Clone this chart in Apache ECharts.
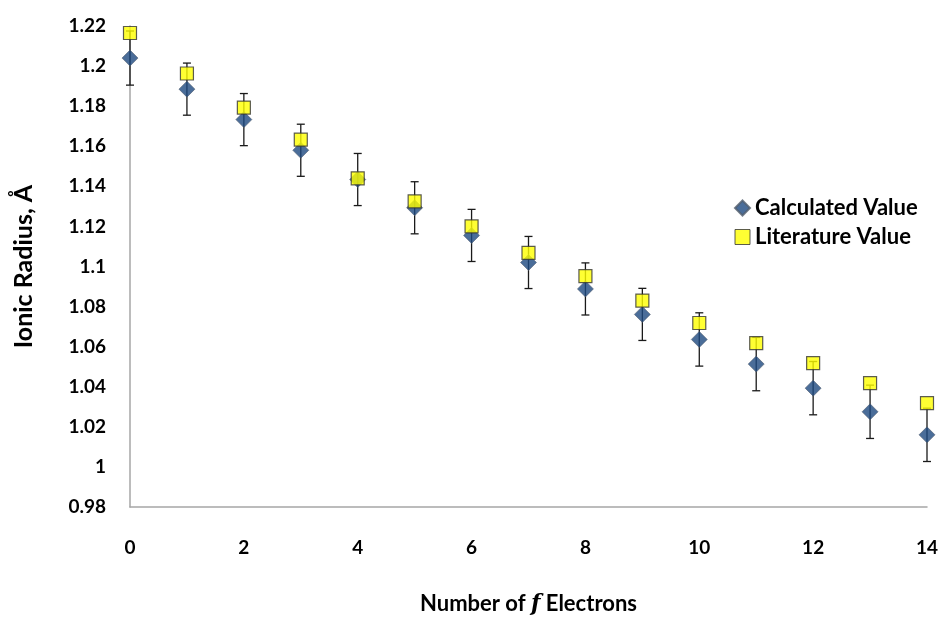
<!DOCTYPE html>
<html lang="en">

<head>
  <meta charset="UTF-8">
  <title>Ionic Radius</title>
  <script src="https://cdn.jsdelivr.net/npm/echarts@6/dist/echarts.min.js"></script>
  <style>
    html, body { margin: 0; padding: 0; background: #fff; }
  </style>
</head>

<body>
  <div id="chart" style="width: 947px; height: 621px;"></div>
  <script>
    // number of f electrons
    var electrons = [0, 1, 2, 3, 4, 5, 6, 7, 8, 9, 10, 11, 12, 13, 14];
    // calculated ionic radius (A)
    var calculated = [1.204, 1.1885, 1.1733, 1.158, 1.1434, 1.1293, 1.1155, 1.102, 1.0888, 1.0761, 1.0636, 1.0513, 1.0393, 1.0275, 1.016];
    // error on calculated value (+/-)
    var calcError = [0.0135, 0.013, 0.013, 0.013, 0.013, 0.013, 0.013, 0.013, 0.013, 0.013, 0.0133, 0.0133, 0.0133, 0.0133, 0.0133];
    // literature ionic radius (A)
    var literature = [1.2165, 1.1963, 1.1793, 1.1633, 1.144, 1.1325, 1.12, 1.1068, 1.0952, 1.083, 1.0718, 1.0618, 1.0518, 1.0418, 1.0318];

    var font = 'Lato';

    var calcData = electrons.map(function (x, i) { return [x, calculated[i]]; });
    var litData = electrons.map(function (x, i) { return [x, literature[i]]; });
    var errData = electrons.map(function (x, i) {
      return [x, calculated[i] - calcError[i], calculated[i] + calcError[i]];
    });

    var chart = echarts.init(document.getElementById('chart'));

    var option = {
      animation: false,
      grid: { left: 130, right: 20, top: 26, bottom: 114 },
      legend: {
        orient: 'vertical',
        left: 729,
        top: 192,
        itemGap: 7,
        itemWidth: 15,
        itemHeight: 15,
        data: [
          { name: 'Calculated Value', icon: 'diamond' },
          { name: 'Literature Value', icon: 'rect', itemStyle: { borderColor: '#333', borderWidth: 1 } }
        ],
        textStyle: { fontFamily: font, fontWeight: 'bold', fontSize: 22, color: '#000' }
      },
      xAxis: {
        type: 'value',
        min: 0,
        max: 14,
        interval: 2,
        name: '{n|Number of }{f|f}{n| Electrons}',
        nameLocation: 'middle',
        nameGap: 86,
        nameTextStyle: {
          rich: {
            n: { fontFamily: font, fontWeight: 'bold', fontSize: 22, color: '#000' },
            f: { fontFamily: 'DejaVu Serif', fontStyle: 'italic', fontWeight: 'bold', fontSize: 22, color: '#000' }
          }
        },
        axisLine: { lineStyle: { color: '#a6a6a6', width: 1.5 } },
        axisTick: { show: false },
        splitLine: { show: false },
        axisLabel: { margin: 31, fontFamily: font, fontWeight: 'bold', fontSize: 19, color: '#000' }
      },
      yAxis: {
        type: 'value',
        min: 0.98,
        max: 1.22,
        interval: 0.02,
        name: 'Ionic Radius, Å',
        nameLocation: 'middle',
        nameGap: 94,
        nameTextStyle: { fontFamily: font, fontWeight: 'bold', fontSize: 25, color: '#000' },
        axisLine: { show: true, lineStyle: { color: '#a6a6a6', width: 1.5 } },
        axisTick: { show: false },
        splitLine: { show: false },
        axisLabel: {
          margin: 24,
          fontFamily: font,
          fontWeight: 'bold',
          fontSize: 19,
          color: '#000',
          formatter: function (v) { return String(parseFloat(v.toFixed(2))); }
        }
      },
      series: [
        {
          type: 'custom',
          name: 'error',
          z: 1,
          data: errData,
          encode: { x: 0, y: [1, 2] },
          renderItem: function (params, api) {
            var x = api.value(0);
            var lo = api.coord([x, api.value(1)]);
            var hi = api.coord([x, api.value(2)]);
            var cap = 4;
            var style = { stroke: '#1a1a1a', lineWidth: 1.3 };
            return {
              type: 'group',
              children: [
                { type: 'line', shape: { x1: lo[0], y1: lo[1], x2: hi[0], y2: hi[1] }, style: style },
                { type: 'line', shape: { x1: lo[0] - cap, y1: lo[1], x2: lo[0] + cap, y2: lo[1] }, style: style },
                { type: 'line', shape: { x1: hi[0] - cap, y1: hi[1], x2: hi[0] + cap, y2: hi[1] }, style: style }
              ]
            };
          }
        },
        {
          type: 'scatter',
          name: 'Calculated Value',
          z: 2,
          symbol: 'diamond',
          symbolSize: 16,
          itemStyle: { color: '#1d4880', borderColor: '#505c6c', borderWidth: 0.7 },
          data: calcData
        },
        {
          type: 'scatter',
          name: 'Literature Value',
          z: 3,
          symbol: 'rect',
          symbolSize: 13,
          itemStyle: { color: '#ffff00', borderColor: '#333', borderWidth: 1.2 },
          data: litData
        }
      ]
    };

    chart.setOption(option);
  </script>
</body>

</html>
